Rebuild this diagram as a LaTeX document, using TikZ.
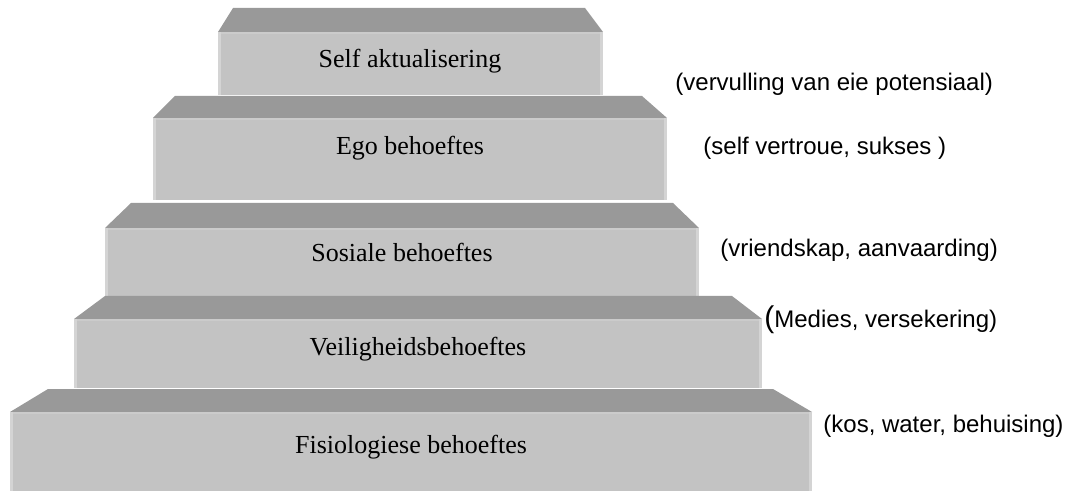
\documentclass[tikz,border=0pt]{standalone}
\usepackage{fontspec}
\setmainfont{Liberation Serif}
\newfontfamily\notefont{Liberation Sans}
\usepackage{tikz}
\usetikzlibrary{positioning}
\definecolor{stepface}{HTML}{C3C3C3}
\definecolor{steptop}{HTML}{999999}
\definecolor{steprim}{HTML}{D4D4D4}
\definecolor{stepline}{HTML}{CBCBCB}
\tikzset{
  tread/.style={fill=steptop, draw=none},
  face/.style={fill=stepface, draw=none},
  rim/.style={fill=steprim, draw=none},
  seam/.style={fill=stepline, draw=none},
  lvl/.style={font=\fontsize{13}{15}\selectfont, text=black, anchor=base, inner sep=0pt},
  note/.style={font=\notefont\fontsize{12}{14}\selectfont, text=black, anchor=base west, inner sep=0pt}
}

\begin{document}
\begin{tikzpicture}[x=0.5pt,y=-0.5pt]
  \useasboundingbox (0,0) rectangle (1074,491);
  % treads and faces, top step first
  \foreach \ty/\fy/\by/\tl/\tr/\fl/\fr in {8/32/95/233/585/218/603,
      96/118/200/175/642/153/667, 203/228/296/131/673/105/699,
      296/319/388/105/732/74/762, 389/412/491/48/773/10/812}{
    \fill[tread] (\tl,\ty) -- (\tr,\ty) -- (\fr,\fy) -- (\fl,\fy) -- cycle;
    \fill[face] (\fl,\fy) rectangle (\fr,\by);
    \fill[seam] (\fl,\fy) rectangle (\fr,{\fy+2});
    \fill[rim] (\fl,\fy) rectangle ({\fl+3},\by);
    \fill[rim] ({\fr-3},\fy) rectangle (\fr,\by);
  }

  \node[lvl] (self)  at (410,68)  {Self aktualisering};
  \node[lvl] (ego)   at (410,155) {Ego behoeftes};
  \node[lvl] (sos)   at (402,262) {Sosiale behoeftes};
  \node[lvl] (veil)  at (418,355) {Veiligheidsbehoeftes};
  \node[lvl] (fisio) at (411,453) {Fisiologiese behoeftes};

  \node[note] (potensiaal) at (675,91)  {(vervulling van eie potensiaal)};
  \node[note] (sukses)     at (703,155) {(self vertroue, sukses )};
  \node[note] (vriend)     at (720,257) {(vriendskap, aanvaarding)};
  \node[note] (medies)     at (764,328) {{\fontsize{15}{17}\selectfont(}Medies, versekering)};
  \node[note] (kos)        at (823,432) {(kos, water, behuising)};
\end{tikzpicture}
\end{document}
